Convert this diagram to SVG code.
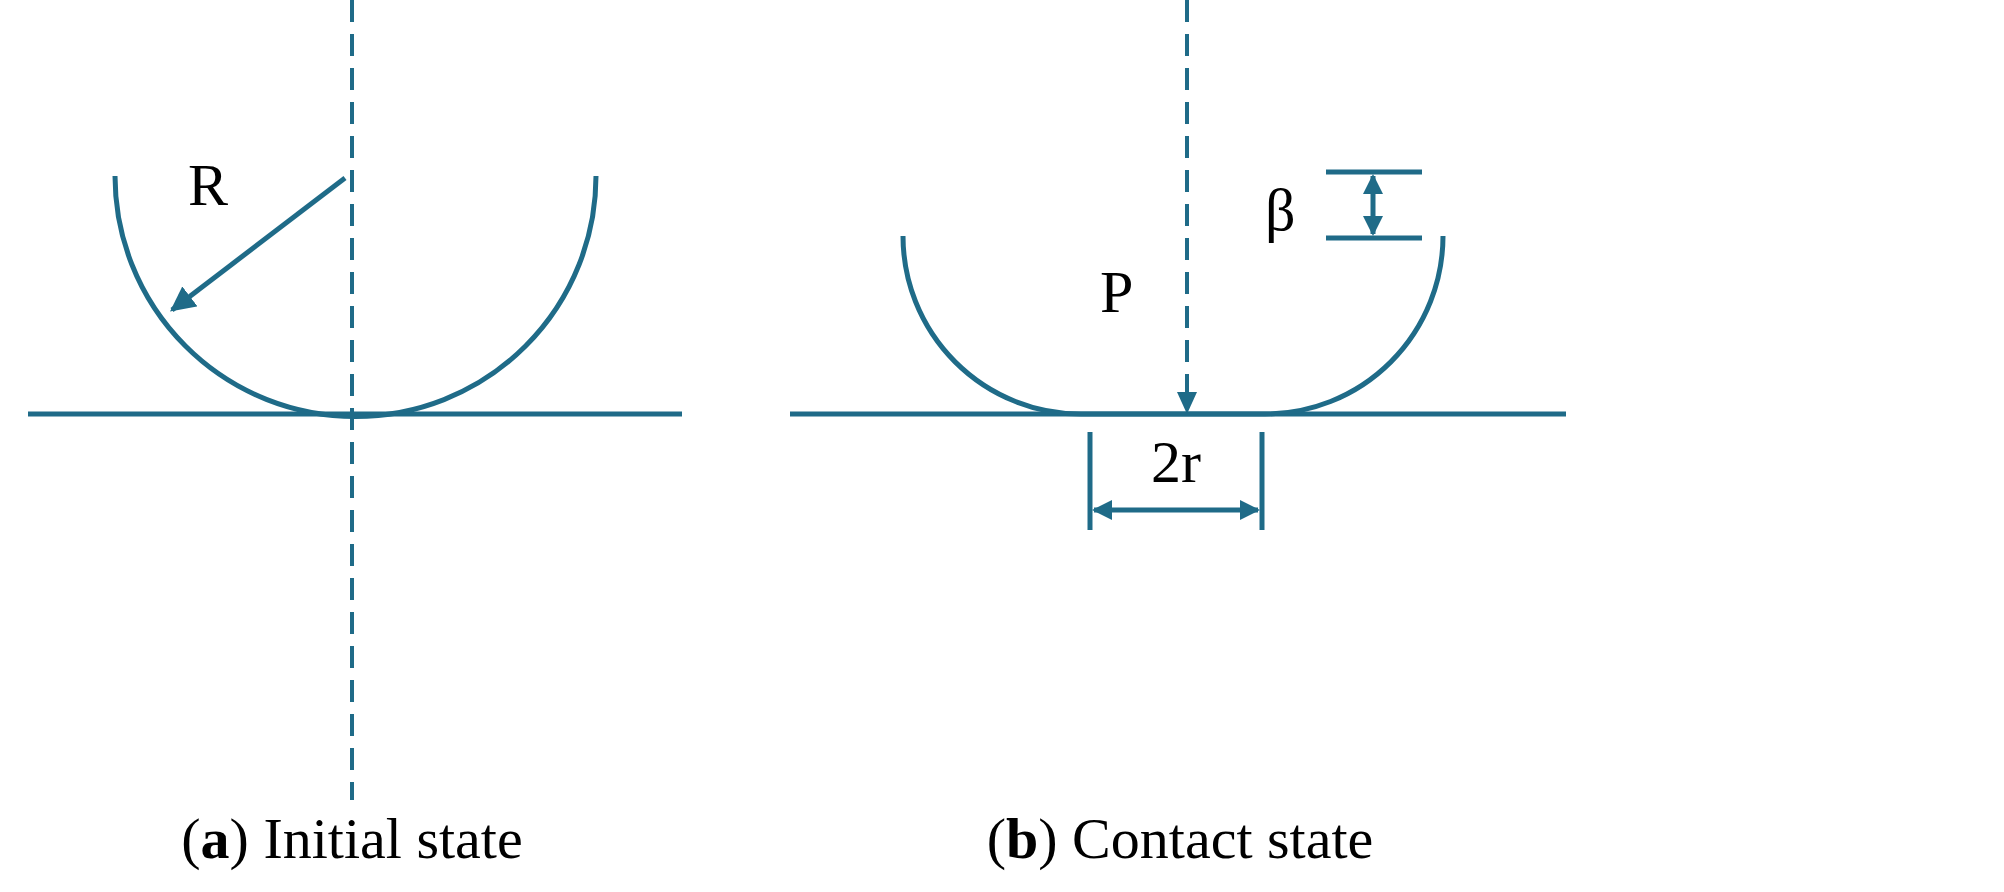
<svg xmlns="http://www.w3.org/2000/svg" width="2004" height="892" viewBox="0 0 2004 892">
<style>
.s{stroke:#1f6b88;stroke-width:5;fill:none}
.d{stroke:#1f6b88;stroke-width:4;fill:none;stroke-dasharray:22,12}
.t{font-family:"Liberation Serif",serif;fill:#000}
</style>
<defs>
<marker id="ah" viewBox="0 0 10 10" refX="9" refY="5" markerWidth="5" markerHeight="5" orient="auto-start-reverse" markerUnits="strokeWidth"><path d="M0,0L10,5L0,10z" fill="#1f6b88"/></marker>
<marker id="ahs" viewBox="0 0 10 10" refX="9" refY="5" markerWidth="4" markerHeight="5" orient="auto-start-reverse" markerUnits="strokeWidth"><path d="M0,0L10,5L0,10z" fill="#1f6b88"/></marker>
</defs>
<g id="panel-a">
<line class="s" x1="28" y1="414" x2="682" y2="414"/>
<path class="s" d="M115,176 A237,237 0 0 0 596,176"/>
<line class="d" x1="352" y1="0" x2="352" y2="800"/>
<line class="s" x1="345" y1="178" x2="172" y2="310" marker-end="url(#ah)"/>
<text class="t" x="188" y="205" font-size="60">R</text>
<text class="t" x="352" y="858" font-size="58" text-anchor="middle">(<tspan font-weight="bold">a</tspan>) Initial state</text>
</g>
<g id="panel-b">
<line class="s" x1="790" y1="414" x2="1566" y2="414"/>
<path class="s" d="M903,236 A178,178 0 0 0 1081,414 L1265,414 A178,178 0 0 0 1443,236"/>
<line class="d" x1="1187" y1="0" x2="1187" y2="392"/>
<path d="M1177,392 L1197,392 L1187,414 Z" fill="#1f6b88"/>
<text class="t" x="1100" y="312" font-size="60">P</text>
<line class="s" x1="1326" y1="172" x2="1422" y2="172"/>
<line class="s" x1="1326" y1="238" x2="1422" y2="238"/>
<line class="s" x1="1373" y1="176" x2="1373" y2="234" stroke-width="3" marker-start="url(#ahs)" marker-end="url(#ahs)"/>
<text class="t" x="1265" y="230" font-size="60">β</text>
<line class="s" x1="1090" y1="432" x2="1090" y2="530" stroke-width="4"/>
<line class="s" x1="1262" y1="432" x2="1262" y2="530" stroke-width="4"/>
<line class="s" x1="1094" y1="510" x2="1258" y2="510" stroke-width="3" marker-start="url(#ahs)" marker-end="url(#ahs)"/>
<text class="t" x="1176" y="482" font-size="60" text-anchor="middle">2r</text>
<text class="t" x="1180" y="858" font-size="58" text-anchor="middle">(<tspan font-weight="bold">b</tspan>) Contact state</text>
</g>
</svg>
